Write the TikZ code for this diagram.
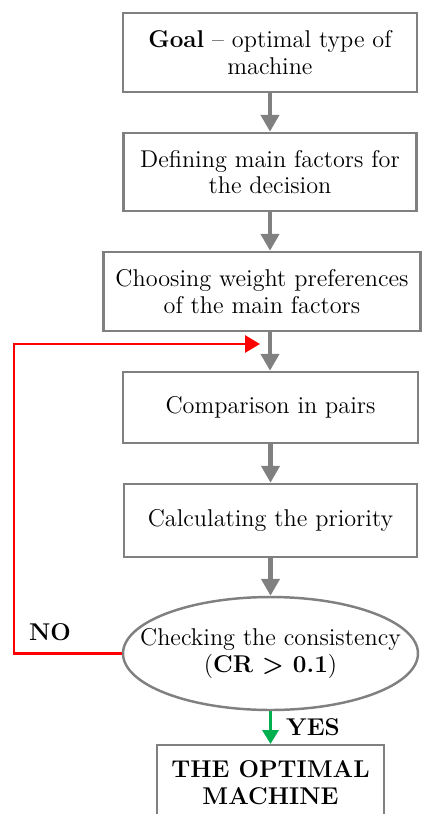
\documentclass[tikz,border=0pt]{standalone}
\usepackage{xcolor}
\usetikzlibrary{shapes.geometric,arrows.meta}

\definecolor{boxgray}{RGB}{128,128,128}
\definecolor{noRed}{RGB}{255,0,0}
\definecolor{yesGreen}{RGB}{0,176,80}

\begin{document}
\begin{tikzpicture}[x=0.02cm,y=-0.02cm,
    stepbox/.style={draw=boxgray,line width=1.4pt,align=center,inner sep=2pt,
        font=\fontsize{13.8}{15.2}\selectfont},
    flow/.style={draw=boxgray,line width=2.6pt,-{Triangle[length=0.34cm,width=0.36cm]}},
    answer/.style={font=\fontsize{13.8}{15.2}\selectfont\bfseries}]
    \useasboundingbox (0,0) rectangle (427,814);
    \clip (0,0) rectangle (427,814);

    % The steps, top to bottom
    \node[stepbox,minimum width=5.88cm,minimum height=1.58cm] (goal) at (270,52.5)
        {\textbf{Goal} -- optimal type of\\machine};
    \node[stepbox,minimum width=5.86cm,minimum height=1.56cm] (factors) at (270,172)
        {Defining main factors for\\the decision};
    \node[stepbox,minimum width=6.34cm,minimum height=1.58cm] (weights) at (262,291.5)
        {Choosing weight preferences\\of the main factors};
    \node[stepbox,minimum width=5.9cm,minimum height=1.42cm] (pairs) at (270.5,407.5)
        {Comparison in pairs};
    \node[stepbox,minimum width=5.86cm,minimum height=1.46cm] (priority) at (270.5,520.5)
        {Calculating the priority};
    % Consistency check
    \node[stepbox,ellipse,minimum width=5.9cm,minimum height=2.26cm,inner xsep=-0.55cm,inner ysep=0.3cm] (check) at (270.5,653.5)
        {Checking the consistency\\(\textbf{CR > 0.1})};
    % Final box, cut at the bottom edge
    \node[stepbox,minimum width=4.54cm,minimum height=1.5cm,anchor=north,font=\fontsize{13.8}{15.2}\selectfont\bfseries] (result) at (270.5,744)
        {THE OPTIMAL\\MACHINE};

    % Gray arrows between the steps
    \draw[flow] (goal.south -| 270,0) -- (factors.north -| 270,0);
    \draw[flow] (factors.south -| 270,0) -- (weights.north -| 270,0);
    \draw[flow] (weights.south -| 270,0) -- (pairs.north -| 270,0);
    \draw[flow] (pairs) -- (priority);
    \draw[flow] (priority) -- (check);

    % Answer YES
    \draw[draw=yesGreen,line width=2.2pt,-{Triangle[length=0.28cm,width=0.32cm]}] (check) -- (result);
    \node[answer,anchor=west] (yes) at (280,727) {YES};

    % Answer NO, back to the comparison
    \coordinate (loop) at (14,344);
    \coordinate (entry) at (260,344);
    \draw[draw=noRed,line width=1.7pt,-{Triangle[length=0.3cm,width=0.34cm]}]
        (check.west) -| (loop) -- (entry);
    \node[answer] (no) at (50,632) {NO};
\end{tikzpicture}
\end{document}
